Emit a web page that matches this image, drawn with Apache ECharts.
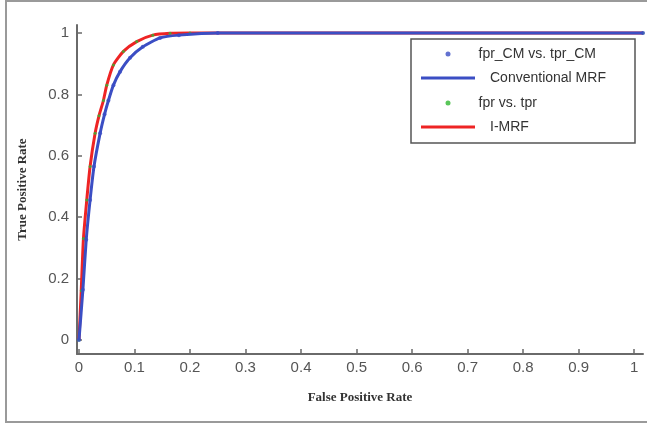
<!DOCTYPE html>
<html>
<head>
<meta charset="utf-8">
<script src="https://cdn.jsdelivr.net/npm/echarts@6/dist/echarts.min.js"></script>
<style>
  html, body { margin: 0; padding: 0; background: #fff; }
  #chart { width: 647px; height: 425px; }
</style>
</head>
<body>
<div id="chart"></div>
<script>
// ROC curve
var fprCM = [0, 0.007, 0.013, 0.020, 0.027, 0.038, 0.046, 0.053, 0.062, 0.074, 0.092, 0.115, 0.146, 0.18, 0.25, 1.016]
var tprCM = [0, 0.163, 0.326, 0.456, 0.565, 0.673, 0.735, 0.78, 0.83, 0.874, 0.919, 0.955, 0.984, 0.993, 1, 1]
var fprI = [0, 0.004, 0.008, 0.014, 0.020, 0.029, 0.036, 0.044, 0.05, 0.062, 0.08, 0.104, 0.133, 0.164, 0.2, 1.016]
var tprI = [0, 0.16, 0.33, 0.456, 0.565, 0.673, 0.73, 0.78, 0.83, 0.896, 0.94, 0.972, 0.993, 0.999, 1, 1]
var xTicks = [0, 0.1, 0.2, 0.3, 0.4, 0.5, 0.6, 0.7, 0.8, 0.9, 1]
var yTicks = [0, 0.2, 0.4, 0.6, 0.8, 1]

function pairs(xs, ys) {
  return xs.map(function (x, i) { return [x, ys[i]] })
}

var blue = '#3b4ec4'
var red = '#ee2424'
var green = '#2fb82f'

var legendBase = {
  orient: 'vertical',
  padding: 0,
  selectedMode: false,
  z: 10,
  textStyle: { fontFamily: 'Liberation Sans', fontSize: 14, color: '#333', lineHeight: 16 }
}

function legendItem(name, left, top, w, h, icon, pad) {
  return Object.assign({}, legendBase, {
    data: [name],
    left: left,
    top: top,
    itemWidth: w,
    itemHeight: h,
    icon: icon,
    textStyle: Object.assign({}, legendBase.textStyle, { padding: [0, 0, 0, pad] })
  })
}

var chart = echarts.init(document.getElementById('chart'))
chart.setOption({
  backgroundColor: '#fff',
  animation: false,
  grid: { left: 77, right: 4, top: 25, bottom: 71 },
  graphic: [
    { // outer frame
      type: 'rect', shape: { x: 6, y: 1, width: 660, height: 421 },
      style: { fill: null, stroke: '#9a9a9a', lineWidth: 2 }, z: 1
    },
    { // legend box
      type: 'rect', shape: { x: 411, y: 39, width: 224, height: 104 },
      style: { fill: '#fff', stroke: '#555', lineWidth: 1.5 }, z: 5
    }
  ],
  legend: [
    legendItem('fpr_CM vs. tpr_CM', 445.5, 46, 5, 5, 'circle', 23),
    legendItem('Conventional MRF', 421, 70, 54, 3, 'rect', 10),
    legendItem('fpr vs. tpr', 445.5, 95, 5, 5, 'circle', 23),
    legendItem('I-MRF', 421, 119, 54, 3, 'rect', 10)
  ],
  xAxis: {
    type: 'value',
    min: -0.0036,
    max: 1.016,
    name: 'False Positive Rate',
    nameLocation: 'middle',
    nameGap: 37,
    nameTextStyle: { fontFamily: 'Liberation Serif', fontWeight: 'bold', fontSize: 13, color: '#333' },
    axisLine: { onZero: false, lineStyle: { color: '#6a6a6a', width: 2 } },
    axisTick: { inside: true, length: 5, customValues: xTicks, lineStyle: { color: '#6a6a6a', width: 1.5 } },
    axisLabel: {
      customValues: xTicks,
      margin: 6,
      fontFamily: 'Liberation Sans',
      fontSize: 15,
      color: '#555',
      formatter: function (v) { return String(Math.round(v * 10) / 10) }
    },
    splitLine: { show: false }
  },
  yAxis: {
    type: 'value',
    min: -0.046,
    max: 1.026,
    name: 'True Positive Rate',
    nameLocation: 'middle',
    nameGap: 48,
    nameTextStyle: { fontFamily: 'Liberation Serif', fontWeight: 'bold', fontSize: 13, color: '#333' },
    axisLine: { onZero: false, lineStyle: { color: '#6a6a6a', width: 2 } },
    axisTick: { inside: true, length: 5, customValues: yTicks, lineStyle: { color: '#6a6a6a', width: 1.5 } },
    axisLabel: {
      customValues: yTicks,
      margin: 8,
      fontFamily: 'Liberation Sans',
      fontSize: 15,
      color: '#555',
      formatter: function (v) { return String(Math.round(v * 10) / 10) }
    },
    splitLine: { show: false }
  },
  series: [
    {
      name: 'fpr vs. tpr',
      type: 'scatter',
      symbolSize: 3,
      itemStyle: { color: green },
      data: pairs(fprI, tprI),
      z: 2
    },
    {
      name: 'I-MRF',
      type: 'line',
      symbol: 'none',
      smooth: 0.2,
      lineStyle: { color: red, width: 3 },
      itemStyle: { color: red },
      data: pairs(fprI, tprI),
      z: 2
    },
    {
      name: 'fpr_CM vs. tpr_CM',
      type: 'scatter',
      symbolSize: 4,
      itemStyle: { color: blue },
      data: pairs(fprCM, tprCM),
      z: 3
    },
    {
      name: 'Conventional MRF',
      type: 'line',
      symbol: 'none',
      smooth: 0.2,
      lineStyle: { color: blue, width: 3 },
      itemStyle: { color: blue },
      data: pairs(fprCM, tprCM),
      z: 3
    }
  ]
})
</script>
</body>
</html>
